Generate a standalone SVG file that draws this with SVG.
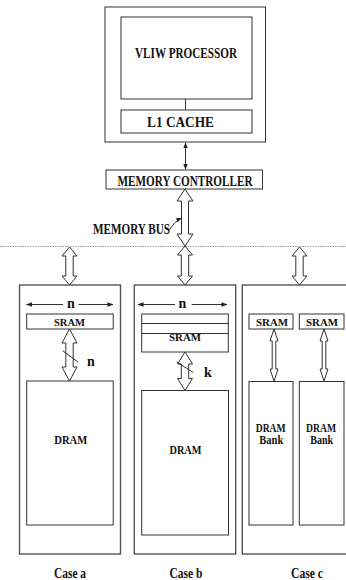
<svg xmlns="http://www.w3.org/2000/svg" width="346" height="580" viewBox="0 0 346 580">
<style>
.box{fill:#fff;stroke:#333;stroke-width:1}
.cbox{fill:#fff;stroke:#555;stroke-width:1.4}
.dbl{fill:#fff;stroke:#333;stroke-width:1;stroke-linejoin:miter}
.ln{stroke:#333;stroke-width:1;fill:none}
.t{font-family:"Liberation Serif","Times New Roman",serif;font-weight:bold;fill:#111;text-anchor:middle}
.s13{font-size:14px}
.s11{font-size:12px}
.s10{font-size:11px}
</style>
<defs>
<marker id="ah" viewBox="0 0 8 8" refX="7" refY="4" markerWidth="6" markerHeight="6" orient="auto-start-reverse" markerUnits="userSpaceOnUse">
<path d="M0,1 L8,4 L0,7 z" fill="#222"/>
</marker>
</defs>

<g id="processor">
<rect class="box" x="105" y="7" width="160.5" height="135"/>
</g>
<g id="vliw">
<rect class="box" x="121" y="17" width="131" height="82"/>
<text class="t s13" x="186" y="57.5" textLength="102" lengthAdjust="spacingAndGlyphs">VLIW PROCESSOR</text>
</g>
<g id="l1cache">
<rect class="box" x="121" y="110" width="131" height="23"/>
<text class="t s13" x="180.5" y="126.5" textLength="67" lengthAdjust="spacingAndGlyphs">L1 CACHE</text>
</g>
<g id="memctrl">
<rect class="box" x="106" y="170" width="156.5" height="19"/>
<text class="t s13" x="185" y="185.5" textLength="135" lengthAdjust="spacingAndGlyphs">MEMORY CONTROLLER</text>
</g>
<g id="membus">
<text class="t s13" x="131.5" y="233.5" textLength="77" lengthAdjust="spacingAndGlyphs">MEMORY BUS</text>
</g>

<g id="case-a">
<rect class="cbox" x="19.5" y="285" width="101" height="269"/>
<rect class="box" x="26.7" y="314" width="86.5" height="15"/>
<text class="t s10" x="69.5" y="325.5" textLength="31" lengthAdjust="spacingAndGlyphs">SRAM</text>
<rect class="box" x="26.7" y="381" width="86.5" height="144"/>
<text class="t s11" x="70.8" y="444" textLength="33" lengthAdjust="spacingAndGlyphs">DRAM</text>
<text class="t s13" x="71" y="308">n</text>
<text class="t s13" x="91" y="366">n</text>
<text class="t s13" x="70" y="578" textLength="32" lengthAdjust="spacingAndGlyphs">Case a</text>
</g>

<g id="case-b">
<rect class="cbox" x="134.3" y="285" width="101.4" height="269"/>
<rect class="box" x="141.7" y="314" width="86.6" height="38"/>
<line class="ln" x1="141.7" y1="323.5" x2="228.3" y2="323.5"/>
<line class="ln" x1="141.7" y1="333.5" x2="228.3" y2="333.5"/>
<text class="t s10" x="185" y="341" textLength="32" lengthAdjust="spacingAndGlyphs">SRAM</text>
<rect class="box" x="141.7" y="390.5" width="86.8" height="144.5"/>
<text class="t s11" x="185.5" y="454" textLength="32" lengthAdjust="spacingAndGlyphs">DRAM</text>
<text class="t s13" x="182.5" y="308">n</text>
<text class="t s13" x="208" y="377">k</text>
<text class="t s13" x="186" y="578" textLength="33" lengthAdjust="spacingAndGlyphs">Case b</text>
</g>

<g id="case-c">
<rect class="cbox" x="242.3" y="285" width="110" height="269"/>
<rect class="box" x="249" y="314" width="44" height="15"/>
<text class="t s10" x="272" y="325.5" textLength="32" lengthAdjust="spacingAndGlyphs">SRAM</text>
<rect class="box" x="299.3" y="314" width="44.7" height="15"/>
<text class="t s10" x="322" y="325.5" textLength="32" lengthAdjust="spacingAndGlyphs">SRAM</text>
<rect class="box" x="249" y="381.5" width="44" height="143.5"/>
<text class="t s11" x="270.7" y="431.5" textLength="30" lengthAdjust="spacingAndGlyphs">DRAM</text>
<text class="t s11" x="271.3" y="444" textLength="24" lengthAdjust="spacingAndGlyphs">Bank</text>
<rect class="box" x="299.3" y="381.5" width="44.7" height="143.5"/>
<text class="t s11" x="321" y="431.5" textLength="30" lengthAdjust="spacingAndGlyphs">DRAM</text>
<text class="t s11" x="321.7" y="444" textLength="23" lengthAdjust="spacingAndGlyphs">Bank</text>
<text class="t s13" x="307" y="578" textLength="32" lengthAdjust="spacingAndGlyphs">Case c</text>
</g>

<g id="connectors">
<line x1="0" y1="246.5" x2="346" y2="246.5" stroke="#999" stroke-width="1" stroke-dasharray="1.5,1"/>
<line class="ln" x1="185.5" y1="143" x2="185.5" y2="169" marker-start="url(#ah)" marker-end="url(#ah)"/>
<line class="ln" x1="185.5" y1="99" x2="185.5" y2="110"/>
<path class="ln" d="M169,230 Q175,221 181.5,218" marker-end="url(#ah)"/>
<polygon class="dbl" points="185,189 193,201 188.5,201 188.5,234 193,234 185,246 177,234 181.5,234 181.5,201 177,201"/>
<polygon class="dbl" points="185,246 192.5,255 188.7,255 188.7,276 192.5,276 185,285 177.5,276 181.3,276 181.3,255 177.5,255"/>
<polygon class="dbl" points="69.5,247 77,256 73.2,256 73.2,276 77,276 69.5,285 62,276 65.8,276 65.8,256 62,256"/>
<polygon class="dbl" points="299.5,247 307,256 303.2,256 303.2,276 307,276 299.5,285 292,276 295.8,276 295.8,256 292,256"/>
<polygon class="dbl" points="69.5,329 77,343 73.2,343 73.2,367 77,367 69.5,381 62,367 65.8,367 65.8,343 62,343"/>
<line class="ln" x1="62.7" y1="350.7" x2="78.3" y2="362.3"/>
<polygon class="dbl" points="185,352 192.5,364 188.7,364 188.7,378.5 192.5,378.5 185,390.5 177.5,378.5 181.3,378.5 181.3,364 177.5,364"/>
<line class="ln" x1="176.7" y1="362" x2="193.3" y2="372.5"/>
<polygon class="dbl" points="274,329 278,341 275.8,341 275.8,369 278,369 274,381 270,369 272.2,369 272.2,341 270,341"/>
<polygon class="dbl" points="324,329 328,341 325.8,341 325.8,369 328,369 324,381 320,369 322.2,369 322.2,341 320,341"/>
<line class="ln" x1="26.7" y1="304.5" x2="63" y2="304.5" marker-start="url(#ah)"/>
<line class="ln" x1="78.5" y1="304.5" x2="112.7" y2="304.5" marker-end="url(#ah)"/>
<line class="ln" x1="138.3" y1="304.5" x2="175" y2="304.5" marker-start="url(#ah)"/>
<line class="ln" x1="191.7" y1="304.5" x2="226.7" y2="304.5" marker-end="url(#ah)"/>
</g>
</svg>
